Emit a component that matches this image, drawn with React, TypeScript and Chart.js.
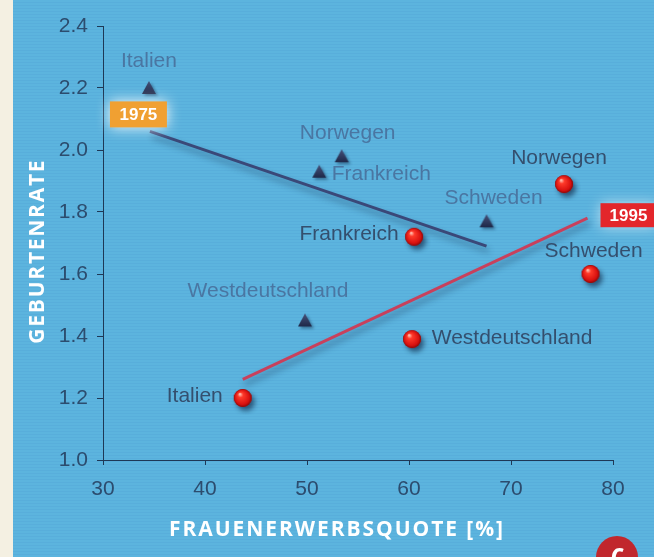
import React, { useEffect, useRef } from 'react';
import { Chart, registerables } from 'chart.js';
Chart.register(...registerables);

// ---- data ----
const countries = ['Italien', 'Norwegen', 'Frankreich', 'Schweden', 'Westdeutschland'];
const erwerb1975 = [34.5, 53.4, 51.2, 67.6, 49.8];
const geburt1975 = [2.2, 1.98, 1.93, 1.77, 1.45];
const erwerb1995 = [43.7, 75.2, 60.5, 77.8, 60.3];
const geburt1995 = [1.2, 1.89, 1.72, 1.6, 1.39];
const trendX1975 = [34.6, 67.6];
const trendY1975 = [2.06, 1.69];
const trendX1995 = [43.7, 77.5];
const trendY1995 = [1.26, 1.78];
const xTicks = [30, 40, 50, 60, 70, 80];
const yTicks = [1.0, 1.2, 1.4, 1.6, 1.8, 2.0, 2.2, 2.4];
const yearLabels = ['1975', '1995'];
const xTitle = 'FRAUENERWERBSQUOTE [%]';
const yTitle = 'GEBURTENRATE';

// label placement (pixel offsets from point to label centre)
const labelOffset1975 = [[0, -27], [6, -23], [62, 3], [7, -23], [-37, -29]];
const labelOffset1995 = [[-48, -2], [-5, -26], [-65, -3], [3, -23], [100, -1]];

function makeBall(): HTMLCanvasElement {
  const c = document.createElement('canvas');
  c.width = 34; c.height = 34;
  const g = c.getContext('2d')!;
  const cx = 17, cy = 17, r = 9;
  g.save();
  g.shadowColor = 'rgba(10,30,60,0.6)';
  g.shadowBlur = 5;
  g.shadowOffsetX = 3; g.shadowOffsetY = 4;
  g.fillStyle = '#b80e0e';
  g.beginPath(); g.arc(cx, cy, r, 0, Math.PI * 2); g.fill();
  g.restore();
  const grad = g.createRadialGradient(cx - 3, cy - 4, 0.5, cx, cy, r);
  grad.addColorStop(0, '#ffc0b0');
  grad.addColorStop(0.25, '#ff3a2a');
  grad.addColorStop(0.8, '#d8110f');
  grad.addColorStop(1, '#8a0808');
  g.fillStyle = grad;
  g.beginPath(); g.arc(cx, cy, r, 0, Math.PI * 2); g.fill();
  return c;
}

function makeTri(): HTMLCanvasElement {
  const c = document.createElement('canvas');
  c.width = 26; c.height = 26;
  const g = c.getContext('2d')!;
  g.shadowColor = 'rgba(10,30,60,0.45)';
  g.shadowBlur = 3;
  g.shadowOffsetX = 2; g.shadowOffsetY = 2;
  const grad = g.createLinearGradient(0, 6, 0, 19);
  grad.addColorStop(0, '#46527a');
  grad.addColorStop(1, '#1e2848');
  g.fillStyle = grad;
  g.beginPath();
  g.moveTo(13, 6); g.lineTo(20, 19); g.lineTo(6, 19); g.closePath();
  g.fill();
  return c;
}

const FONT = '"Liberation Sans", Arial, sans-serif';

export default function App() {
  const ref = useRef<HTMLCanvasElement | null>(null);
  useEffect(() => {
    if (!ref.current) return;
    const ball = makeBall();
    const tri = makeTri();

    const shadowPlugin = {
      id: 'lineShadow',
      beforeDatasetDraw(chart: any, args: any) {
        if (args.index < 2) {
          const ctx = chart.ctx;
          ctx.save();
          ctx.shadowColor = 'rgba(20,40,70,0.45)';
          ctx.shadowBlur = 6;
          ctx.shadowOffsetX = 2;
          ctx.shadowOffsetY = 5;
        }
      },
      afterDatasetDraw(chart: any, args: any) {
        if (args.index < 2) chart.ctx.restore();
      },
    };

    const labelPlugin = {
      id: 'labels',
      afterDatasetsDraw(chart: any) {
        const ctx = chart.ctx;
        const xs = chart.scales.x, ys = chart.scales.y;
        ctx.save();
        ctx.font = `21px ${FONT}`;
        ctx.textAlign = 'center';
        ctx.textBaseline = 'middle';
        countries.forEach((name, i) => {
          const px = xs.getPixelForValue(erwerb1975[i]);
          const py = ys.getPixelForValue(geburt1975[i]);
          ctx.fillStyle = '#4a76a2';
          ctx.fillText(name, px + labelOffset1975[i][0], py + labelOffset1975[i][1]);
          const qx = xs.getPixelForValue(erwerb1995[i]);
          const qy = ys.getPixelForValue(geburt1995[i]);
          ctx.fillStyle = '#344f6e';
          ctx.fillText(name, qx + labelOffset1995[i][0], qy + labelOffset1995[i][1]);
        });
        // year boxes
        const boxes = [
          { x: xs.getPixelForValue(trendX1975[0]) - 11.5, y: ys.getPixelForValue(trendY1975[0]) - 17, w: 57, h: 26, c: '#f0a032', glow: 'rgba(255,255,255,0.95)', t: yearLabels[0] },
          { x: xs.getPixelForValue(trendX1995[1]) + 41, y: ys.getPixelForValue(trendY1995[1]) - 3, w: 56, h: 24, c: '#e3262b', glow: 'rgba(255,255,255,0.6)', t: yearLabels[1] },
        ];
        boxes.forEach((b) => {
          ctx.save();
          ctx.shadowColor = b.glow;
          ctx.shadowBlur = 14;
          ctx.fillStyle = b.c;
          ctx.fillRect(b.x - b.w / 2, b.y - b.h / 2, b.w, b.h);
          ctx.restore();
          ctx.fillStyle = '#ffffff';
          ctx.font = `bold 17px ${FONT}`;
          ctx.fillText(b.t, b.x, b.y + 1);
        });
        ctx.restore();
      },
    };

    const titlePlugin = {
      id: 'titles',
      afterDraw(chart: any) {
        const ctx = chart.ctx;
        const drawSpaced = (text: string, x: number, y: number, target: number) => {
          ctx.letterSpacing = '0px';
          const w = ctx.measureText(text).width;
          const sp = (target - w) / text.length;
          ctx.letterSpacing = `${sp}px`;
          ctx.fillText(text, x + sp / 2, y);
          ctx.letterSpacing = '0px';
        };
        ctx.save();
        ctx.fillStyle = '#ffffff';
        ctx.font = 'bold 21px "Open Sans", sans-serif';
        ctx.textAlign = 'center';
        ctx.textBaseline = 'middle';
        drawSpaced(xTitle, 323, 530, 336);
        ctx.save();
        ctx.translate(25, 252);
        ctx.rotate(-Math.PI / 2);
        drawSpaced(yTitle, 0, 0, 185);
        ctx.restore();
        // corner badge
        ctx.fillStyle = '#c1272d';
        ctx.beginPath();
        ctx.arc(604, 557, 21, 0, Math.PI * 2);
        ctx.fill();
        ctx.fillStyle = '#ffffff';
        ctx.font = 'bold italic 26px "Open Sans", sans-serif';
        ctx.fillText('c', 604, 556);
        ctx.restore();
      },
    };

    const tickColor = '#2c4c6e';
    const lineColor = '#1e3856';
    const chart = new Chart(ref.current, {
      type: 'scatter',
      data: {
        datasets: [
          {
            data: trendX1975.map((x, i) => ({ x, y: trendY1975[i] })),
            showLine: true,
            borderColor: '#3a4878',
            borderWidth: 3,
            pointRadius: 0,
            order: 2,
          } as any,
          {
            data: trendX1995.map((x, i) => ({ x, y: trendY1995[i] })),
            showLine: true,
            borderColor: '#c8405c',
            borderWidth: 3,
            pointRadius: 0,
            order: 2,
          } as any,
          {
            data: erwerb1975.map((x, i) => ({ x, y: geburt1975[i] })),
            pointStyle: tri,
            pointRadius: 8,
            order: 1,
          } as any,
          {
            data: erwerb1995.map((x, i) => ({ x, y: geburt1995[i] })),
            pointStyle: ball,
            pointRadius: 10,
            order: 1,
          } as any,
        ],
      },
      options: {
        animation: false,
        responsive: false,
        events: [],
        layout: { padding: { top: 26, right: 41, bottom: 0, left: 0 } },
        plugins: { legend: { display: false }, tooltip: { enabled: false } },
        scales: {
          x: {
            type: 'linear',
            min: xTicks[0],
            max: xTicks[xTicks.length - 1],
            afterBuildTicks: (s: any) => { s.ticks = xTicks.map((v) => ({ value: v })); },
            afterFit: (s: any) => { s.height = 97; },
            ticks: { color: tickColor, font: { family: FONT, size: 21 }, padding: 12 },
            grid: { drawOnChartArea: false, drawTicks: true, tickLength: 5, color: lineColor },
            border: { color: lineColor, width: 1 },
          },
          y: {
            type: 'linear',
            min: yTicks[0],
            max: yTicks[yTicks.length - 1],
            afterBuildTicks: (s: any) => { s.ticks = yTicks.map((v) => ({ value: v })); },
            afterFit: (s: any) => { s.width = 90; },
            ticks: { color: tickColor, font: { family: FONT, size: 21 }, padding: 9, callback: (v: any) => Number(v).toFixed(1) },
            grid: { drawOnChartArea: false, drawTicks: true, tickLength: 6, color: lineColor },
            border: { color: lineColor, width: 1 },
          },
        },
      } as any,
      plugins: [shadowPlugin, labelPlugin, titlePlugin],
    });
    return () => chart.destroy();
  }, []);

  return (
    <div style={{ position: 'absolute', left: 0, top: 0, width: 654, height: 557, background: '#f4f0e2', overflow: 'hidden' }}>
      <div
        style={{
          position: 'absolute', left: 13, top: 0, width: 641, height: 557,
          background: 'repeating-linear-gradient(180deg, #5cb4de 0px, #5cb4de 2px, #58aedb 2px, #58aedb 3px)',
        }}
      >
        <canvas ref={ref} width={641} height={557} style={{ display: 'block' }} />
      </div>
    </div>
  );
}
